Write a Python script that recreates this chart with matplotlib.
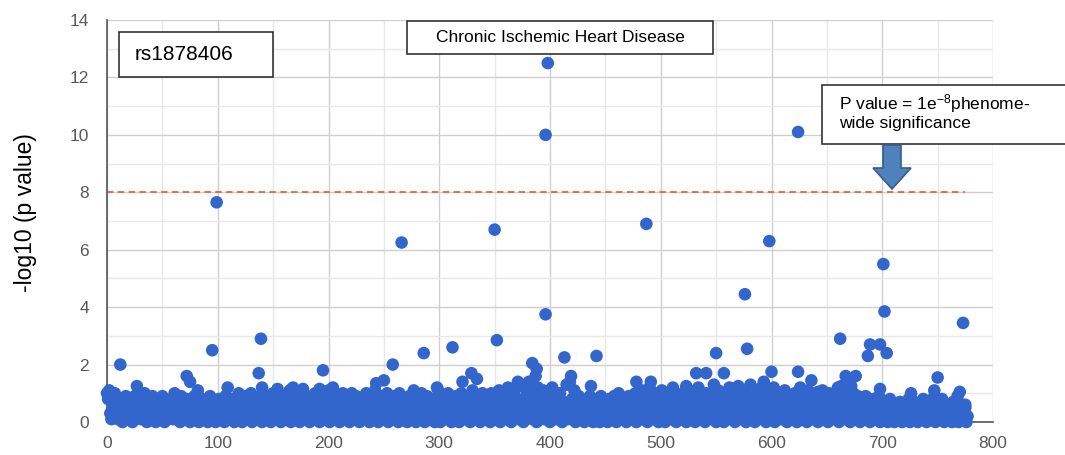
import matplotlib
matplotlib.use("Agg")
import matplotlib.pyplot as plt
from matplotlib.patches import Rectangle, Polygon
from matplotlib.ticker import MultipleLocator

plt.rcParams['font.family'] = ['Liberation Sans', 'DejaVu Sans']
plt.rcParams['mathtext.fontset'] = 'custom'
plt.rcParams['mathtext.rm'] = 'Liberation Sans'
plt.rcParams['mathtext.it'] = 'Liberation Sans'

# background phenotypes, -log10(p) by phenotype index 0..777 (dense cloud, estimated)
bg_y = [
    1.0, 0.8, 1.1, 0.3, 0.1, 0.9, 0.5, 1.0, 0.2, 0.6, 0.1, 0.4, 0.8, 0.2, 0.0, 0.5, 0.3, 0.9, 0.1, 0.6,
    0.2, 0.7, 0.4, 0.0, 0.3, 0.9, 0.1, 0.5, 0.2, 0.8, 0.4, 0.1, 0.6, 0.3, 1.0, 0.2, 0.0, 0.5, 0.7, 0.1,
    0.3, 0.9, 0.2, 0.6, 0.0, 0.4, 0.8, 0.1, 0.3, 0.5, 0.9, 0.2, 0.0, 0.7, 0.3, 0.1, 0.6, 0.4, 0.2, 0.8,
    0.1, 1.0, 0.3, 0.5, 0.2, 0.7, 0.0, 0.9, 0.4, 0.1, 0.6, 0.3, 0.8, 0.2, 0.5, 0.0, 0.7, 0.3, 0.1, 0.9,
    0.4, 0.2, 1.1, 0.0, 0.6, 0.3, 0.8, 0.1, 0.5, 0.2, 0.7, 0.0, 0.4, 0.9, 0.1, 0.3, 0.6, 0.2, 0.0, 0.5,
    0.3, 0.8, 0.1, 0.6, 0.2, 0.4, 0.0, 0.9, 0.3, 0.5, 0.1, 0.7, 0.2, 0.4, 0.8, 0.0, 0.3, 0.6, 0.1, 1.0,
    0.2, 0.5, 0.0, 0.7, 0.3, 0.9, 0.1, 0.4, 0.6, 0.2, 1.0, 0.0, 0.5, 0.3, 0.8, 0.1, 0.4, 0.2, 0.6, 0.9,
    0.0, 0.4, 0.7, 0.2, 0.5, 0.1, 0.9, 0.3, 0.0, 0.6, 1.0, 0.2, 0.4, 0.8, 0.1, 0.3, 0.5, 0.0, 0.7, 0.2,
    0.9, 0.3, 0.1, 0.6, 0.4, 1.1, 0.0, 0.5, 0.2, 0.8, 0.3, 0.1, 0.7, 0.4, 0.0, 1.0, 0.2, 0.6, 0.3, 0.1,
    0.5, 0.9, 0.2, 0.0, 0.7, 0.3, 0.6, 0.1, 1.0, 0.4, 0.2, 0.8, 0.0, 0.5, 0.3, 0.9, 0.1, 0.6, 0.4, 0.2,
    1.1, 0.0, 0.5, 0.3, 0.8, 0.1, 0.6, 0.2, 0.9, 0.4, 0.0, 0.7, 0.3, 1.0, 0.1, 0.5, 0.2, 0.8, 0.4, 0.0,
    0.6, 1.0, 0.2, 0.4, 0.1, 0.9, 0.3, 0.7, 0.0, 0.5, 0.8, 0.2, 0.4, 0.1, 1.0, 0.3, 0.6, 0.0, 0.9, 0.2,
    0.5, 0.1, 1.1, 0.3, 0.7, 0.0, 0.4, 0.9, 0.2, 0.6, 0.1, 0.8, 0.3, 1.0, 0.0, 0.5, 0.2, 0.7, 0.4, 0.1,
    0.9, 0.3, 0.6, 0.0, 1.0, 0.2, 0.5, 0.8, 0.1, 0.4, 0.7, 0.0, 0.3, 0.9, 0.2, 0.6, 0.1, 1.1, 0.4, 0.0,
    0.5, 0.8, 0.2, 0.3, 1.0, 0.1, 0.6, 0.0, 0.4, 0.9, 0.2, 0.7, 0.1, 0.5, 0.3, 0.8, 0.0, 0.6, 0.2, 1.1,
    0.3, 0.0, 0.7, 0.4, 0.9, 0.1, 0.5, 0.2, 1.0, 0.3, 0.6, 0.0, 0.8, 0.4, 0.1, 0.9, 0.2, 0.5, 0.0, 0.7,
    1.0, 0.2, 0.4, 0.8, 0.1, 0.6, 0.3, 0.9, 0.0, 0.5, 1.1, 0.2, 0.7, 0.3, 0.1, 0.8, 0.4, 0.0, 0.6, 1.0,
    0.2, 0.5, 0.9, 0.1, 0.3, 0.7, 0.0, 1.0, 0.4, 0.2, 0.6, 0.8, 0.1, 0.3, 1.1, 0.0, 0.5, 0.9, 0.2, 0.4,
    0.7, 0.1, 1.2, 0.3, 0.6, 0.0, 0.9, 0.4, 1.1, 0.2, 0.5, 0.8, 0.1, 1.3, 0.3, 0.6, 0.0, 1.2, 0.4, 0.9,
    0.2, 1.4, 0.5, 0.7, 0.1, 1.0, 0.3, 0.8, 0.0, 1.2, 0.6, 0.2, 0.9, 0.4, 1.1, 0.1, 0.7, 0.3, 0.5, 1.0,
    0.0, 0.6, 1.2, 0.3, 0.8, 0.1, 0.5, 0.9, 0.2, 1.0, 0.4, 0.0, 0.7, 0.3, 0.6, 1.3, 0.1, 0.5, 1.4, 0.2,
    0.8, 0.4, 1.1, 0.0, 0.6, 0.3, 0.9, 0.1, 0.5, 0.2, 0.4, 0.0, 0.7, 0.3, 0.1, 0.6, 0.9, 0.2, 0.5, 0.0,
    0.4, 0.8, 0.1, 0.3, 0.6, 0.0, 0.9, 0.2, 0.5, 0.1, 0.7, 0.3, 0.0, 0.8, 0.4, 0.2, 0.6, 0.1, 0.9, 0.3,
    0.0, 0.5, 1.0, 0.2, 0.7, 0.1, 0.4, 0.8, 0.3, 0.0, 0.6, 0.9, 0.2, 0.5, 0.1, 0.7, 0.3, 1.0, 0.0, 0.4,
    0.8, 0.2, 0.6, 1.1, 0.1, 0.4, 0.9, 0.3, 0.0, 0.7, 1.2, 0.2, 0.5, 0.8, 0.1, 1.0, 0.3, 0.6, 0.0, 0.9,
    0.4, 1.1, 0.2, 0.7, 0.0, 0.5, 1.0, 0.3, 0.8, 0.1, 0.6, 1.2, 0.2, 0.4, 0.0, 0.9, 0.3, 0.7, 0.1, 0.5,
    1.0, 0.2, 0.6, 0.0, 0.8, 0.4, 1.1, 0.1, 0.5, 0.3, 0.9, 0.0, 0.7, 0.2, 1.2, 0.4, 0.1, 0.8, 0.3, 0.6,
    0.0, 1.0, 0.5, 0.2, 0.9, 0.3, 0.7, 0.1, 1.3, 0.4, 0.0, 0.6, 1.1, 0.2, 0.8, 0.3, 0.5, 0.0, 1.0, 0.4,
    0.2, 0.7, 1.2, 0.1, 0.5, 0.9, 0.3, 0.0, 0.6, 1.0, 0.2, 0.8, 0.4, 0.1, 1.1, 0.3, 0.7, 0.0, 0.5, 0.9,
    0.3, 1.3, 0.1, 0.6, 0.8, 0.0, 0.4, 1.0, 0.2, 0.7, 0.5, 1.2, 0.1, 0.3, 0.9, 0.0, 0.6, 0.4, 1.1, 0.2,
    0.8, 0.3, 1.2, 0.0, 0.5, 0.9, 0.2, 0.7, 1.0, 0.1, 0.4, 0.6, 1.1, 0.3, 0.0, 0.8, 0.5, 0.2, 0.9, 0.1,
    0.6, 1.0, 0.3, 0.0, 0.7, 0.4, 1.2, 0.1, 0.5, 0.9, 0.2, 0.6, 0.0, 1.1, 0.3, 0.8, 0.4, 0.1, 1.0, 0.2,
    0.5, 0.9, 0.0, 0.3, 0.7, 0.1, 1.1, 0.4, 0.2, 0.8, 0.6, 0.0, 1.0, 0.3, 0.5, 0.1, 0.9, 0.2, 0.7, 0.4,
    1.2, 0.0, 0.6, 0.3, 0.9, 0.1, 0.5, 0.8, 0.2, 1.1, 0.4, 0.0, 0.7, 0.3, 1.0, 0.1, 0.6, 0.2, 0.9, 0.5,
    0.0, 0.8, 0.3, 0.6, 0.1, 0.9, 0.4, 0.2, 0.7, 0.0, 0.5, 0.3, 0.8, 0.1, 0.6, 0.2, 0.4, 0.9, 0.0, 0.3,
    0.7, 0.1, 0.5, 0.2, 0.6, 0.0, 0.4, 0.8, 0.1, 0.3, 0.5, 0.0, 0.6, 0.2, 0.4, 0.1, 0.7, 0.3, 0.0, 0.5,
    0.2, 0.6, 0.1, 0.4, 0.8, 0.0, 0.3, 0.5, 0.1, 0.7, 0.2, 0.4, 0.0, 0.6, 0.3, 0.1, 0.5, 0.8, 0.2, 0.4,
    0.0, 0.6, 0.3, 0.1, 0.7, 0.4, 0.2, 0.9, 0.0, 0.5, 0.3, 0.1, 0.6, 0.2, 0.8, 0.4, 0.0, 0.5, 0.1, 0.3,
    0.6, 0.2, 0.4, 0.0, 0.7, 0.1, 0.5, 0.3, 0.9, 0.0, 0.4, 0.2, 0.6, 0.1, 0.3, 0.5, 0.0, 0.2,
]
bg_x = list(range(len(bg_y)))

# phenotypes standing out from the cloud
peak_x = [99, 95, 139, 137, 12, 72, 75, 195, 266, 258, 286, 250, 243, 27, 109, 140, 154, 168,
          177, 192, 204, 298, 398, 396, 624, 350, 487, 598, 576, 578, 396, 352, 312, 413, 442,
          550, 557, 532, 541, 384, 388, 387, 383, 378, 371, 329, 334, 321, 419, 437, 478, 491,
          523, 600, 593, 570, 701, 702, 773, 662, 689, 698, 687, 704, 698, 667, 676, 672, 663,
          750, 747, 726, 770, 775, 624, 636, 642, 657]
peak_y = [7.65, 2.5, 2.9, 1.7, 2.0, 1.6, 1.4, 1.8, 6.25, 2.0, 2.4, 1.45, 1.35, 1.25, 1.2, 1.2,
          1.15, 1.2, 1.15, 1.15, 1.2, 1.2, 12.5, 10.0, 10.1, 6.7, 6.9, 6.3, 4.45, 2.55, 3.75,
          2.85, 2.6, 2.25, 2.3, 2.4, 1.7, 1.7, 1.7, 2.05, 1.85, 1.6, 1.4, 1.3, 1.4, 1.7, 1.5,
          1.4, 1.6, 1.25, 1.4, 1.4, 1.25, 1.75, 1.4, 1.25, 5.5, 3.85, 3.45, 2.9, 2.7, 2.7, 2.3,
          2.4, 1.15, 1.6, 1.6, 1.25, 1.25, 1.55, 1.1, 1.0, 1.05, 0.6, 1.75, 1.45, 1.05, 1.0]

threshold = 8
threshold_end = 775
snp_label = "rs1878406"
title = "Chronic Ischemic Heart Disease"

W, H = 1065, 455
fig = plt.figure(figsize=(W / 100, H / 100), dpi=100)
ax = fig.add_axes([107 / W, 1 - 422 / H, 886 / W, 402 / H])

def fx(px):
    return px / W

def fy(py):
    return 1 - py / H

dot = '#3366cc'
ax.scatter(bg_x, bg_y, s=82, color=dot, edgecolors='none', zorder=3, clip_on=False)
ax.scatter(peak_x, peak_y, s=82, color=dot, edgecolors='none', zorder=3, clip_on=False)
ax.plot([0, threshold_end], [threshold, threshold], color='#e8643f', lw=1.3,
        dashes=(3.5, 2.5), zorder=2)

ax.set_xlim(0, 800)
ax.set_ylim(0, 14)
ax.xaxis.set_major_locator(MultipleLocator(100))
ax.xaxis.set_minor_locator(MultipleLocator(50))
ax.yaxis.set_major_locator(MultipleLocator(2))
ax.yaxis.set_minor_locator(MultipleLocator(1))
ax.grid(which='major', color='#cfcfcf', lw=1.0, zorder=0)
ax.grid(which='minor', color='#e8e8e8', lw=1.0, zorder=0)
ax.set_axisbelow(True)
ax.tick_params(which='both', length=0)
ax.tick_params(axis='x', pad=10, labelsize=12.5, labelcolor='#595959')
ax.tick_params(axis='y', pad=13, labelsize=12.5, labelcolor='#595959')
for side in ['top', 'right']:
    ax.spines[side].set_visible(False)
for side in ['left', 'bottom']:
    ax.spines[side].set_color('#555555')
    ax.spines[side].set_linewidth(1.2)

fig.text(fx(26), fy(213), "-log10 (p value)", rotation=90, fontsize=16.5,
         ha='center', va='center', color='black')

# label boxes
def box(x0, y0, x1, y1):
    fig.patches.append(Rectangle((fx(x0), fy(y1)), fx(x1) - fx(x0), fy(y0) - fy(y1),
                                 transform=fig.transFigure, facecolor='white',
                                 edgecolor='#333333', lw=1.2, zorder=5))

box(119, 32, 273, 77)
fig.text(fx(135), fy(55), snp_label, fontsize=15, ha='left', va='center', zorder=6)

box(407, 21, 713, 54)
fig.text(fx(560), fy(38), title, fontsize=12.5, ha='center', va='center', zorder=6)

box(822, 85, 1066, 144)
fig.text(fx(839), fy(104), r"P value = 1e$^{-8}$phenome-", fontsize=12.5, ha='left',
         va='center', zorder=6)
fig.text(fx(839), fy(124), "wide significance", fontsize=12.5, ha='left', va='center', zorder=6)

# block arrow pointing down to the threshold line
cx = 892
arrow_px = [(cx - 9, 145), (cx + 9, 145), (cx + 9, 168), (cx + 19, 168), (cx, 189),
            (cx - 19, 168), (cx - 9, 168)]
fig.patches.append(Polygon([(fx(a), fy(b)) for a, b in arrow_px], closed=True,
                           transform=fig.transFigure, facecolor='#4f81bd',
                           edgecolor='#385d8a', lw=1.2, zorder=5))

fig.savefig('out.png', dpi=100)
